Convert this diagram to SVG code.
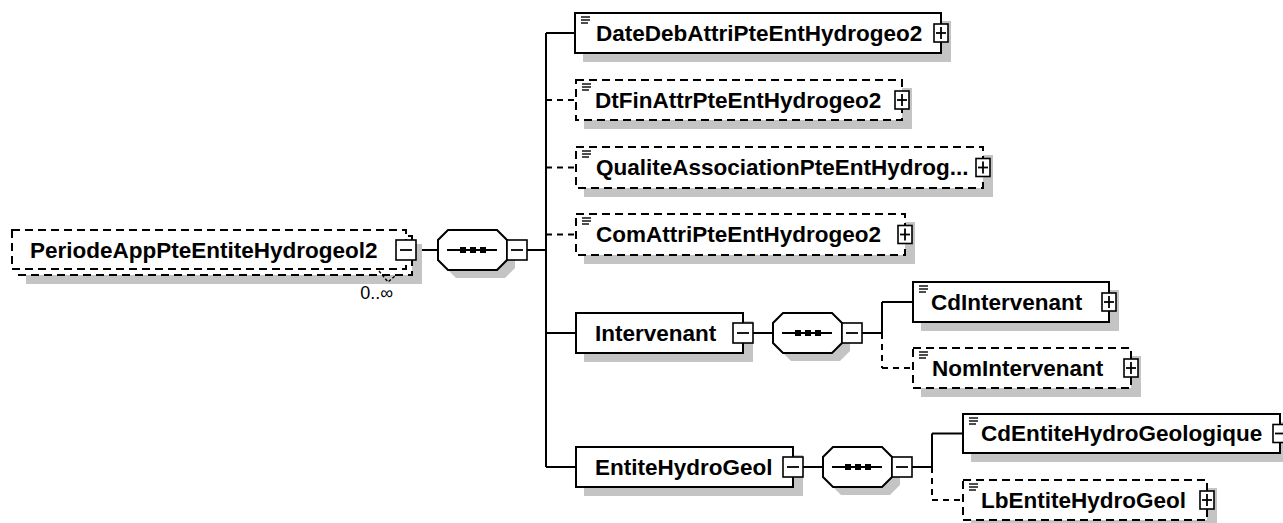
<svg xmlns="http://www.w3.org/2000/svg" width="1283" height="523" viewBox="0 0 1283 523">
<style>
.bg{fill:#fff}
.sh{fill:#c4c4c4;stroke:none}
.box{fill:#fff;stroke:#000;stroke-width:2}
.dbox{fill:#fff;stroke:#000;stroke-width:2;stroke-dasharray:8 5}
.pm{fill:#fff;stroke:#000;stroke-width:1.6}
.sign{stroke:#000;stroke-width:1.8;fill:none}
.ico{stroke:#000;stroke-width:1.4;fill:none}
.ln{stroke:#000;stroke-width:2;fill:none}
.dln{stroke:#000;stroke-width:2;fill:none;stroke-dasharray:6 5}
.t{font-family:"Liberation Sans",Arial,sans-serif;font-weight:bold;font-size:22.5px;fill:#000}
.occ{font-family:"Liberation Sans",Arial,sans-serif;font-size:18px;fill:#000}
</style>
<rect class="bg" x="0" y="0" width="1283" height="523"/>

<g id="connectors">
<line class="ln" x1="416" y1="250" x2="438" y2="250"/>
<line class="ln" x1="527" y1="250" x2="546" y2="250"/>
<line class="ln" x1="546" y1="33" x2="546" y2="467"/>
<line class="ln" x1="546" y1="33" x2="575" y2="33"/>
<line class="dln" x1="546" y1="100" x2="576" y2="100"/>
<line class="dln" x1="546" y1="167.5" x2="576" y2="167.5"/>
<line class="dln" x1="546" y1="234.5" x2="576" y2="234.5"/>
<line class="ln" x1="546" y1="333" x2="576" y2="333"/>
<line class="ln" x1="546" y1="467" x2="576" y2="467"/>
<line class="ln" x1="753" y1="333" x2="773" y2="333"/>
<line class="ln" x1="862" y1="333" x2="882" y2="333"/>
<line class="ln" x1="882" y1="302" x2="882" y2="333"/>
<line class="dln" x1="882" y1="333" x2="882" y2="368"/>
<line class="ln" x1="882" y1="302" x2="913" y2="302"/>
<line class="dln" x1="882" y1="368" x2="913" y2="368"/>
<line class="ln" x1="803" y1="467" x2="823" y2="467"/>
<line class="ln" x1="912" y1="467" x2="932" y2="467"/>
<line class="ln" x1="932" y1="433.5" x2="932" y2="467"/>
<line class="dln" x1="932" y1="467" x2="932" y2="500"/>
<line class="ln" x1="932" y1="433.5" x2="963" y2="433.5"/>
<line class="dln" x1="932" y1="500" x2="963" y2="500"/>
</g>

<g id="root">
<rect class="sh" x="26" y="244" width="396" height="40"/>
<rect class="dbox" x="18" y="236" width="394" height="39"/>
<rect class="dbox" x="12" y="230" width="394" height="39"/>
<text class="t" x="30" y="257.5">PeriodeAppPteEntiteHydrogeol2</text>
<rect class="pm" x="396" y="240" width="20" height="20"/>
<line class="sign" x1="400" y1="250" x2="412" y2="250"/>
<polyline points="379,271 388,282 395,276" fill="none" stroke="#000" stroke-width="1.4" stroke-dasharray="3 2"/>
<text class="occ" x="393" y="299" text-anchor="end">0..∞</text>
</g>

<g id="seq1">
<path class="sh" d="M456,238 L505,238 L515,248 L515,268 L505,278 L456,278 L446,268 L446,248 Z"/>
<path class="box" d="M448,230 L497,230 L507,240 L507,260 L497,270 L448,270 L438,260 L438,240 Z"/>
<line class="ln" x1="447" y1="250" x2="497" y2="250"/>
<rect x="460" y="247" width="6" height="6" fill="#000"/>
<rect x="470" y="247" width="6" height="6" fill="#000"/>
<rect x="480" y="247" width="6" height="6" fill="#000"/>
<rect class="pm" x="507" y="240" width="20" height="20"/>
<line class="sign" x1="511" y1="250" x2="523" y2="250"/>
</g>

<g id="DateDebAttriPteEntHydrogeo2">
<rect class="sh" x="583" y="21" width="368" height="41"/>
<rect class="box" x="575" y="13" width="366" height="40"/>
<line class="ico" x1="581" y1="17" x2="590" y2="17"/><line class="ico" x1="581" y1="20" x2="590" y2="20"/><line class="ico" x1="581" y1="23" x2="588" y2="23"/>
<text class="t" x="596" y="40.5">DateDebAttriPteEntHydrogeo2</text>
<rect class="pm" x="934" y="24" width="14" height="18"/>
<line class="sign" x1="936" y1="33" x2="946" y2="33"/><line class="sign" x1="941" y1="27" x2="941" y2="39"/>
</g>

<g id="DtFinAttrPteEntHydrogeo2">
<rect class="sh" x="584" y="88" width="328" height="41"/>
<rect class="dbox" x="576" y="80" width="326" height="40"/>
<line class="ico" x1="582" y1="84" x2="591" y2="84"/><line class="ico" x1="582" y1="87" x2="591" y2="87"/><line class="ico" x1="582" y1="90" x2="589" y2="90"/>
<text class="t" x="595" y="107.5">DtFinAttrPteEntHydrogeo2</text>
<rect class="pm" x="895" y="91" width="14" height="18"/>
<line class="sign" x1="897" y1="100" x2="907" y2="100"/><line class="sign" x1="902" y1="94" x2="902" y2="106"/>
</g>

<g id="QualiteAssociationPteEntHydrog">
<rect class="sh" x="584" y="155" width="409" height="42"/>
<rect class="dbox" x="576" y="147" width="407" height="41"/>
<line class="ico" x1="582" y1="151" x2="591" y2="151"/><line class="ico" x1="582" y1="154" x2="591" y2="154"/><line class="ico" x1="582" y1="157" x2="589" y2="157"/>
<text class="t" x="596" y="175">QualiteAssociationPteEntHydrog...</text>
<rect class="pm" x="976" y="158.5" width="14" height="18"/>
<line class="sign" x1="978" y1="167.5" x2="988" y2="167.5"/><line class="sign" x1="983" y1="161.5" x2="983" y2="173.5"/>
</g>

<g id="ComAttriPteEntHydrogeo2">
<rect class="sh" x="584" y="222" width="331" height="42"/>
<rect class="dbox" x="576" y="214" width="329" height="41"/>
<line class="ico" x1="582" y1="218" x2="591" y2="218"/><line class="ico" x1="582" y1="221" x2="591" y2="221"/><line class="ico" x1="582" y1="224" x2="589" y2="224"/>
<text class="t" x="596" y="242">ComAttriPteEntHydrogeo2</text>
<rect class="pm" x="898" y="225.5" width="14" height="18"/>
<line class="sign" x1="900" y1="234.5" x2="910" y2="234.5"/><line class="sign" x1="905" y1="228.5" x2="905" y2="240.5"/>
</g>

<g id="Intervenant">
<rect class="sh" x="584" y="321" width="169" height="41"/>
<rect class="box" x="576" y="313" width="167" height="40"/>
<text class="t" x="595" y="340.5">Intervenant</text>
<rect class="pm" x="733" y="323" width="20" height="20"/>
<line class="sign" x1="737" y1="333" x2="749" y2="333"/>
</g>

<g id="seq2">
<path class="sh" d="M791,321 L840,321 L850,331 L850,351 L840,361 L791,361 L781,351 L781,331 Z"/>
<path class="box" d="M783,313 L832,313 L842,323 L842,343 L832,353 L783,353 L773,343 L773,323 Z"/>
<line class="ln" x1="782" y1="333" x2="832" y2="333"/>
<rect x="795" y="330" width="6" height="6" fill="#000"/>
<rect x="805" y="330" width="6" height="6" fill="#000"/>
<rect x="815" y="330" width="6" height="6" fill="#000"/>
<rect class="pm" x="842" y="323" width="20" height="20"/>
<line class="sign" x1="846" y1="333" x2="858" y2="333"/>
</g>

<g id="CdIntervenant">
<rect class="sh" x="921" y="290" width="198" height="41"/>
<rect class="box" x="913" y="282" width="196" height="40"/>
<line class="ico" x1="919" y1="286" x2="928" y2="286"/><line class="ico" x1="919" y1="289" x2="928" y2="289"/><line class="ico" x1="919" y1="292" x2="926" y2="292"/>
<text class="t" x="931" y="309.5">CdIntervenant</text>
<rect class="pm" x="1102" y="293" width="14" height="18"/>
<line class="sign" x1="1104" y1="302" x2="1114" y2="302"/><line class="sign" x1="1109" y1="296" x2="1109" y2="308"/>
</g>

<g id="NomIntervenant">
<rect class="sh" x="921" y="356" width="220" height="41"/>
<rect class="dbox" x="913" y="348" width="218" height="40"/>
<line class="ico" x1="919" y1="352" x2="928" y2="352"/><line class="ico" x1="919" y1="355" x2="928" y2="355"/><line class="ico" x1="919" y1="358" x2="926" y2="358"/>
<text class="t" x="932" y="375.5">NomIntervenant</text>
<rect class="pm" x="1124" y="359" width="14" height="18"/>
<line class="sign" x1="1126" y1="368" x2="1136" y2="368"/><line class="sign" x1="1131" y1="362" x2="1131" y2="374"/>
</g>

<g id="EntiteHydroGeol">
<rect class="sh" x="584" y="455" width="219" height="41"/>
<rect class="box" x="576" y="447" width="217" height="40"/>
<text class="t" x="595" y="474.5">EntiteHydroGeol</text>
<rect class="pm" x="783" y="457" width="20" height="20"/>
<line class="sign" x1="787" y1="467" x2="799" y2="467"/>
</g>

<g id="seq3">
<path class="sh" d="M841,455 L890,455 L900,465 L900,485 L890,495 L841,495 L831,485 L831,465 Z"/>
<path class="box" d="M833,447 L882,447 L892,457 L892,477 L882,487 L833,487 L823,477 L823,457 Z"/>
<line class="ln" x1="832" y1="467" x2="882" y2="467"/>
<rect x="845" y="464" width="6" height="6" fill="#000"/>
<rect x="855" y="464" width="6" height="6" fill="#000"/>
<rect x="865" y="464" width="6" height="6" fill="#000"/>
<rect class="pm" x="892" y="457" width="20" height="20"/>
<line class="sign" x1="896" y1="467" x2="908" y2="467"/>
</g>

<g id="CdEntiteHydroGeologique">
<rect class="sh" x="971" y="422" width="319" height="40"/>
<rect class="box" x="963" y="414" width="317" height="39"/>
<line class="ico" x1="969" y1="418" x2="978" y2="418"/><line class="ico" x1="969" y1="421" x2="978" y2="421"/><line class="ico" x1="969" y1="424" x2="976" y2="424"/>
<text class="t" x="981" y="441">CdEntiteHydroGeologique</text>
<rect class="pm" x="1273" y="424.5" width="14" height="18"/>
<line class="sign" x1="1275" y1="433.5" x2="1285" y2="433.5"/>
</g>

<g id="LbEntiteHydroGeol">
<rect class="sh" x="971" y="488" width="246" height="41"/>
<rect class="dbox" x="963" y="480" width="244" height="40"/>
<line class="ico" x1="969" y1="484" x2="978" y2="484"/><line class="ico" x1="969" y1="487" x2="978" y2="487"/><line class="ico" x1="969" y1="490" x2="976" y2="490"/>
<text class="t" x="981" y="507.5">LbEntiteHydroGeol</text>
<rect class="pm" x="1200" y="491" width="14" height="18"/>
<line class="sign" x1="1202" y1="500" x2="1212" y2="500"/><line class="sign" x1="1207" y1="494" x2="1207" y2="506"/>
</g>
</svg>
